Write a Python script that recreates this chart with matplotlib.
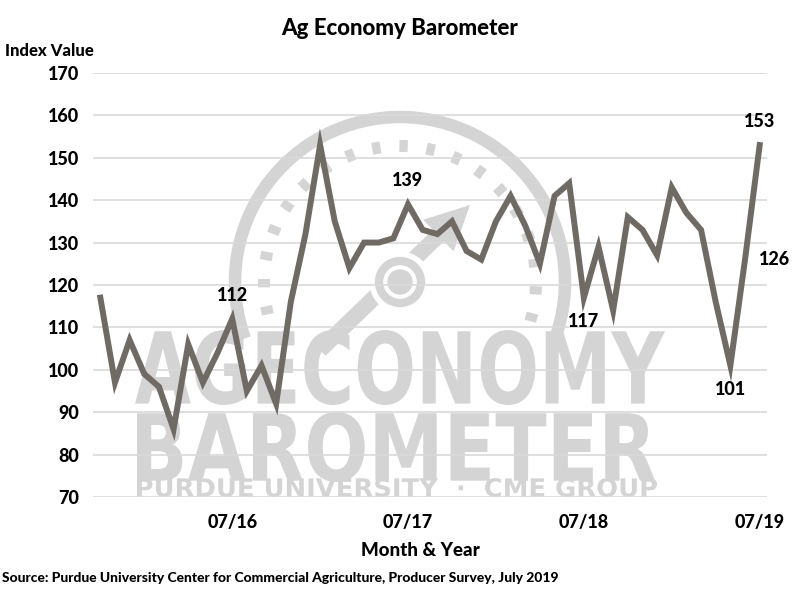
import matplotlib
matplotlib.use("Agg")
import matplotlib.pyplot as plt
import numpy as np
from matplotlib.textpath import TextPath
from matplotlib.patches import PathPatch, Circle, Arc, FancyArrow
from matplotlib.font_manager import FontProperties
import matplotlib.transforms as mtransforms

#---------------------------------------------------------------------------------
# Dados - Out/2015 a Jul/2019

months = ["10/15", "11/15", "12/15", "01/16", "02/16", "03/16", "04/16", "05/16", "06/16",
          "07/16", "08/16", "09/16", "10/16", "11/16", "12/16", "01/17", "02/17", "03/17",
          "04/17", "05/17", "06/17", "07/17", "08/17", "09/17", "10/17", "11/17", "12/17",
          "01/18", "02/18", "03/18", "04/18", "05/18", "06/18", "07/18", "08/18", "09/18",
          "10/18", "11/18", "12/18", "01/19", "02/19", "03/19", "04/19", "05/19", "06/19",
          "07/19"]
index_value = [117, 97, 107, 99, 96, 86, 106, 97, 104,
               112, 95, 101, 92, 116, 132, 153, 135, 124,
               130, 130, 131, 139, 133, 132, 135, 128, 126,
               135, 141, 134, 125, 141, 144, 117, 129, 114,
               136, 133, 127, 143, 137, 133, 116, 101, 126,
               153]
tick_labels = ["07/16", "07/17", "07/18", "07/19"]
annotated = {"07/16": "above", "07/17": "above", "07/18": "below",
             "05/19": "below", "06/19": "right", "07/19": "above"}

FONT = ["Lato", "DejaVu Sans"]
plt.rcParams["font.family"] = FONT
W = "black"
line_color = "#706a65"
wm_color = "#d4d4d4"

fig = plt.figure(figsize=(8, 6), dpi=100)

#---------------------------------------------------------------------------------
# Marca d'água (logo Ag Economy Barometer) em coordenadas de pixel

bg = fig.add_axes([0, 0, 1, 1], zorder=0)
bg.set_xlim(0, 800)
bg.set_ylim(600, 0)
bg.axis("off")

def wm_text(s, x0, x1, y0, y1, weight="bold"):
    fp = FontProperties(family="DejaVu Sans", weight=weight)
    tp = TextPath((0, 0), s, size=100, prop=fp)
    ext = tp.get_extents()
    sx = (x1 - x0) / ext.width
    sy = (y1 - y0) / ext.height
    tr = mtransforms.Affine2D().translate(-ext.x0, -ext.y0).scale(sx, -sy).translate(x0, y1)
    bg.add_patch(PathPatch(tr.transform_path(tp), color=wm_color, lw=0))

cx, cy, r = 400, 282, 165
# eixo y invertido: ângulos espelhados
bg.add_patch(Arc((cx, cy), 2 * r, 2 * r, theta1=-200, theta2=20, color=wm_color, lw=9))
for ang in np.arange(-15, 200, 11.5):
    a = np.radians(ang)
    r0, r1 = 130, 142
    bg.plot([cx + r0 * np.cos(a), cx + r1 * np.cos(a)],
            [cy - r0 * np.sin(a), cy - r1 * np.sin(a)], color=wm_color, lw=6, solid_capstyle="butt")
bg.add_patch(FancyArrow(320, 350, 150, -145, width=16, head_width=44, head_length=44,
                        color=wm_color, lw=0, length_includes_head=True))
bg.add_patch(Circle((cx, cy), 30, color="white", zorder=1))
bg.add_patch(Circle((cx, cy), 21, fill=False, ec=wm_color, lw=6, zorder=2))
bg.add_patch(Circle((cx, cy), 12, color=wm_color, zorder=2))

wm_text("AGECONOMY", 135, 665, 330, 405)
wm_text("BAROMETER", 137, 655, 412, 482)
wm_text("PURDUE UNIVERSITY  ·  CME GROUP", 137, 657, 478, 497)

#---------------------------------------------------------------------------------
# Gráfico principal

ax = fig.add_axes([0.11625, 0.1717, 0.8425, 0.7067], zorder=1)
ax.patch.set_alpha(0)
x = np.arange(len(months))
ax.plot(x, index_value, color=line_color, lw=4.3, solid_joinstyle="miter", zorder=3)

ax.set_xlim(-0.5, len(months) - 0.5)
ax.set_ylim(70, 170)
ax.set_yticks(np.arange(70, 171, 10))
ax.set_yticklabels([str(v) for v in range(70, 171, 10)], fontsize=13, fontweight=W)
ax.set_xticks([months.index(t) for t in tick_labels])
ax.set_xticklabels(tick_labels, fontsize=13, fontweight=W)
ax.tick_params(length=0, pad=12)
ax.tick_params(axis="y", pad=10)
ax.grid(axis="y", color="#d9d9d9", lw=1.2, zorder=0)
for s in ax.spines.values():
    s.set_visible(False)

for m, pos in annotated.items():
    i = months.index(m)
    v = index_value[i]
    if pos == "above":
        ax.annotate(str(v), (i, v), xytext=(0, 11), textcoords="offset points",
                    ha="center", va="bottom", fontsize=13, fontweight=W)
    elif pos == "below":
        ax.annotate(str(v), (i, v), xytext=(0, -11), textcoords="offset points",
                    ha="center", va="top", fontsize=13, fontweight=W)
    else:
        ax.annotate(str(v), (i, v), xytext=(10, 0), textcoords="offset points",
                    ha="left", va="center", fontsize=13, fontweight=W)

fig.text(0.5, 0.953, "Ag Economy Barometer", ha="center", va="center", fontsize=16, fontweight=W)
fig.text(0.006, 0.915, "Index Value", ha="left", va="center", fontsize=12, fontweight=W)
fig.text(0.525, 0.083, "Month & Year", ha="center", va="center", fontsize=13.5, fontweight=W)
fig.text(0.003, 0.037, "Source: Purdue University Center for Commercial Agriculture, Producer Survey, July 2019",
         ha="left", va="center", fontsize=10, fontweight=W)

fig.savefig("out.png", dpi=100, facecolor="white")
